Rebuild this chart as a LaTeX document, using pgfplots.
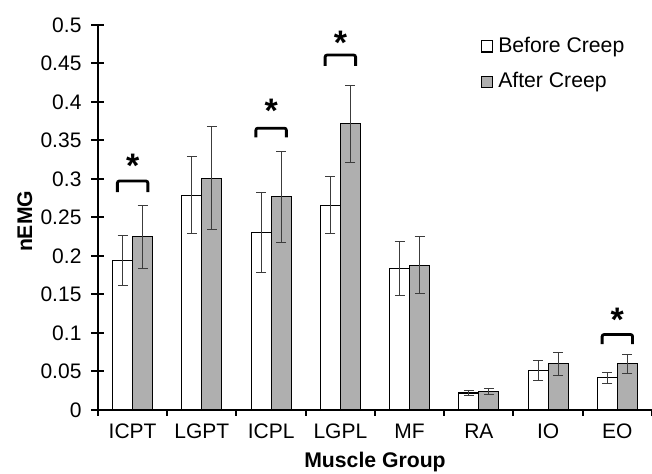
\documentclass[border=0pt]{standalone}
\usepackage{pgfplots}
\pgfplotsset{compat=1.18}
\usepackage{pgfplotstable}
\usepackage{fontspec}
\setmainfont{Liberation Sans}
\definecolor{barg}{RGB}{175,175,175}
\definecolor{errc}{RGB}{60,60,60}
\pgfplotstableread{
x b eb a ea
0 0.194 0.032 0.225 0.041
1 0.279 0.050 0.301 0.067
2 0.231 0.052 0.277 0.059
3 0.266 0.037 0.372 0.050
4 0.184 0.035 0.188 0.037
5 0.022 0.003 0.024 0.004
6 0.051 0.013 0.060 0.015
7 0.042 0.007 0.060 0.0125
}\data
\begin{document}
\begin{tikzpicture}
\begin{axis}[
  at={(0pt,0pt)}, anchor=south west,
  scale only axis, width=277pt, height=192.5pt,
  xmin=-0.5, xmax=7.5, ymin=0, ymax=0.5,
  axis x line*=bottom, axis y line*=left,
  axis line style={line width=1pt, -},
  every tick/.style={black, line width=1pt},
  ybar=0pt, bar width=10pt,
  ytick={0,0.05,0.1,0.15,0.2,0.25,0.3,0.35,0.4,0.45,0.5},
  yticklabels={0,0.05,0.1,0.15,0.2,0.25,0.3,0.35,0.4,0.45,0.5},
  xtick={-0.5,0.5,1.5,2.5,3.5,4.5,5.5,6.5,7.5},
  x tick label as interval,
  xticklabels={ICPT,LGPT,ICPL,LGPL,MF,RA,IO,EO},
  xtick style={draw=none},
  major tick length=6.5pt, tick align=center,
  ticklabel style={font=\fontsize{10.5}{13}\selectfont},
  yticklabel style={xshift=-1.5pt},
  xlabel={\bfseries Muscle Group}, ylabel={\bfseries nEMG},
  label style={font=\fontsize{10.6}{13}\selectfont},
  xlabel style={at={(axis description cs:0.5,-0.135)}, anchor=center},
  ylabel style={at={(axis description cs:-0.132,0.49)}, anchor=center},
  legend style={draw=none, fill=none, at={(0.69,0.977)}, anchor=north west,
    font=\fontsize{10.6}{13}\selectfont, row sep=5.5pt, inner sep=0pt,
    nodes={inner sep=1.5pt}},
  legend cell align=left,
  legend image code/.code={\path[draw=none, fill=none] (0pt,0pt) -- (7pt,0pt); \draw[#1, line width=0.6pt] (0pt,-2.8pt) rectangle (5.6pt,2.8pt);},
  clip=false,
]
\addplot[fill=white, draw=black, line width=0.6pt,
  error bars/.cd, y dir=both, y explicit,
  error bar style={errc, line width=0.5pt},
  error mark options={errc, line width=0.5pt, mark size=2.5pt, rotate=90}]
  table[x=x, y=b, y error=eb]{\data};
\addlegendentry{Before Creep}
\addplot[fill=barg, draw=black, line width=0.6pt,
  error bars/.cd, y dir=both, y explicit,
  error bar style={errc, line width=0.5pt},
  error mark options={errc, line width=0.5pt, mark size=2.5pt, rotate=90}]
  table[x=x, y=a, y error=ea]{\data};
\addlegendentry{After Creep}
% significance brackets
\addplot[sharp plot, forget plot, black, line width=1.4pt, rounded corners=1pt]
  coordinates {(-0.22,0.283) (-0.22,0.2974) (0.22,0.2974) (0.22,0.283)};
\addplot[sharp plot, forget plot, black, line width=1.4pt, rounded corners=1pt]
  coordinates {(1.78,0.354) (1.78,0.366) (2.22,0.366) (2.22,0.354)};
\addplot[sharp plot, forget plot, black, line width=1.4pt, rounded corners=1pt]
  coordinates {(2.78,0.447) (2.78,0.461) (3.22,0.461) (3.22,0.447)};
\addplot[sharp plot, forget plot, black, line width=1.4pt, rounded corners=1pt]
  coordinates {(6.78,0.0856) (6.78,0.098) (7.22,0.098) (7.22,0.0856)};
\node[anchor=north, inner sep=0pt, font=\fontsize{17}{17}\selectfont\bfseries] at (axis cs:0,0.333) {*};
\node[anchor=north, inner sep=0pt, font=\fontsize{17}{17}\selectfont\bfseries] at (axis cs:2,0.404) {*};
\node[anchor=north, inner sep=0pt, font=\fontsize{17}{17}\selectfont\bfseries] at (axis cs:3,0.493) {*};
\node[anchor=north, inner sep=0pt, font=\fontsize{17}{17}\selectfont\bfseries] at (axis cs:7,0.133) {*};
\end{axis}
\begin{axis}[
  at={(0pt,0pt)}, anchor=south west,
  scale only axis, width=277pt, height=192.5pt,
  xmin=-0.5, xmax=7.5, ymin=0, ymax=0.5,
  axis x line*=bottom, axis y line=none,
  axis line style={line width=1pt, -},
  every tick/.style={black, line width=1pt},
  xtick={-0.5,0.5,1.5,2.5,3.5,4.5,5.5,6.5,7.5},
  xticklabels={},
  major tick length=3pt, tick align=outside,
]
\end{axis}
\pgfresetboundingbox
\useasboundingbox (-49pt,-32pt) rectangle (277pt,205pt);
\end{tikzpicture}
\end{document}
